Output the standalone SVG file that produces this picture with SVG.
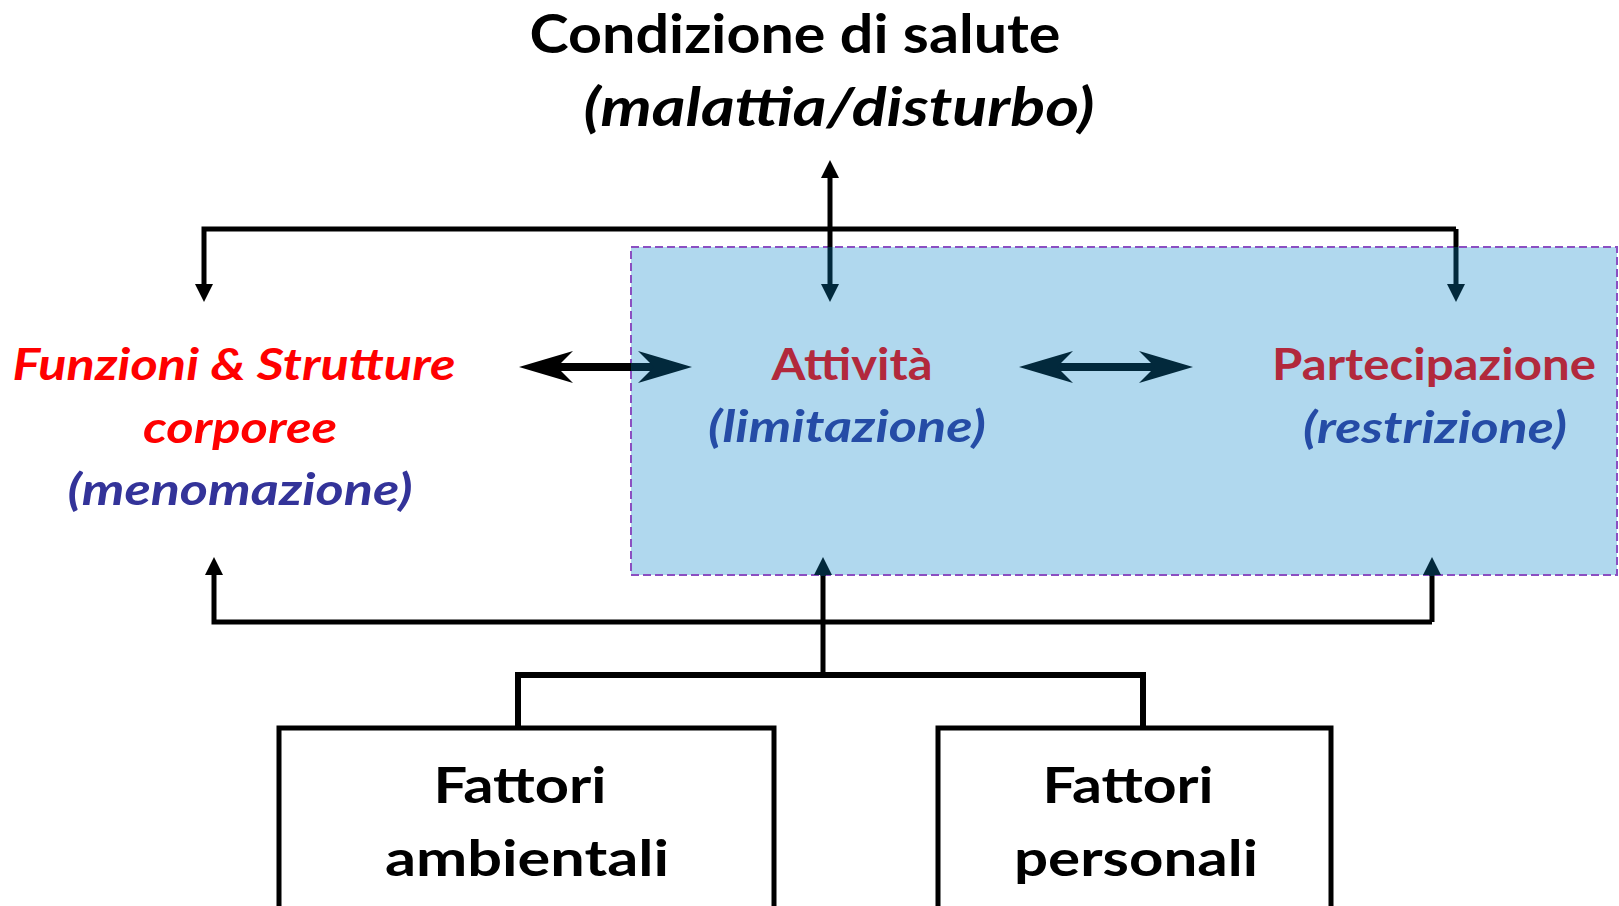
<svg xmlns="http://www.w3.org/2000/svg" width="1619" height="906" viewBox="0 0 1619 906">
<style>
text{font-family:Lato,"Open Sans","Liberation Sans",sans-serif;font-weight:bold;text-anchor:middle}
.it{font-style:italic}
.blk{fill:#000}
.red{fill:#FF0000}
.ind{fill:#333399}
.red2{fill:#B2293C}
.ind2{fill:#254CA6}
.ln{fill:none;stroke:#000;stroke-width:5;stroke-linejoin:miter}
.nv{fill:none;stroke:#02293C;stroke-width:5}
.thk{fill:none;stroke:#000;stroke-width:8}
.thkn{fill:none;stroke:#02293C;stroke-width:8}
.box{fill:#fff;stroke:#000;stroke-width:5}
</style>
<defs>
<marker id="triK" markerUnits="userSpaceOnUse" viewBox="0 0 18 18" refX="0" refY="9" markerWidth="18" markerHeight="18" orient="auto"><path d="M0,0 L18,9 L0,18 z" fill="#000"/></marker>
<marker id="triN" markerUnits="userSpaceOnUse" viewBox="0 0 18 18" refX="0" refY="9" markerWidth="18" markerHeight="18" orient="auto"><path d="M0,0 L18,9 L0,18 z" fill="#02293C"/></marker>
<marker id="barbK" markerUnits="userSpaceOnUse" viewBox="0 0 54 32" refX="16" refY="16" markerWidth="54" markerHeight="32" orient="auto-start-reverse"><path d="M54,16 L0,0 L16,16 L0,32 z" fill="#000"/></marker>
<marker id="barbN" markerUnits="userSpaceOnUse" viewBox="0 0 54 32" refX="16" refY="16" markerWidth="54" markerHeight="32" orient="auto-start-reverse"><path d="M54,16 L0,0 L16,16 L0,32 z" fill="#02293C"/></marker>
</defs>

<g id="group-box">
<rect x="631" y="247" width="986" height="328" fill="#B0D8EE" stroke="#8B4FC1" stroke-width="2" stroke-dasharray="8 4"/>
</g>

<g id="connectors">
<path class="ln" d="M1456,229 L204,229 L204,284" marker-end="url(#triK)"/>
<path class="ln" d="M1456,229 L1456,247"/>
<path class="nv" d="M1456,247 L1456,284" marker-end="url(#triN)"/>
<path class="ln" d="M830,247 L830,178" marker-end="url(#triK)"/>
<path class="nv" d="M830,247 L830,284" marker-end="url(#triN)"/>
<path class="thk" d="M633,367 L557,367" marker-end="url(#barbK)"/>
<path class="thkn" d="M631,367 L654,367" marker-end="url(#barbN)"/>
<path class="thkn" d="M1057,367 L1155,367" marker-start="url(#barbN)" marker-end="url(#barbN)"/>
<path class="ln" d="M1432,622 L214,622 L214,575" marker-end="url(#triK)"/>
<path class="ln" d="M1432,622 L1432,575"/>
<path class="nv" d="M1432,576 L1432,575" marker-end="url(#triN)"/>
<path class="ln" d="M823,675 L823,575"/>
<path class="nv" d="M823,576 L823,575" marker-end="url(#triN)"/>
<path class="ln" style="stroke-width:6" d="M518,728 L518,675 L1143,675 L1143,728"/>
</g>

<g id="node-condizione">
<text class="blk" x="795" y="53" font-size="53" textLength="531" lengthAdjust="spacingAndGlyphs">Condizione di salute</text>
<text class="blk it" x="839" y="126" font-size="53" textLength="511" lengthAdjust="spacingAndGlyphs">(malattia/disturbo)</text>
</g>

<g id="node-funzioni">
<text class="red it" x="234" y="380" font-size="44" textLength="443" lengthAdjust="spacingAndGlyphs">Funzioni &amp; Strutture</text>
<text class="red it" x="240" y="443" font-size="44" textLength="194" lengthAdjust="spacingAndGlyphs">corporee</text>
<text class="ind it" x="240" y="505" font-size="44" textLength="345" lengthAdjust="spacingAndGlyphs">(menomazione)</text>
</g>

<g id="node-attivita">
<text class="red2" x="852" y="380" font-size="44" textLength="161" lengthAdjust="spacingAndGlyphs">Attività</text>
<text class="ind2 it" x="847" y="442" font-size="44" textLength="278" lengthAdjust="spacingAndGlyphs">(limitazione)</text>
</g>

<g id="node-partecipazione">
<text class="red2" x="1434" y="380" font-size="44" textLength="324" lengthAdjust="spacingAndGlyphs">Partecipazione</text>
<text class="ind2 it" x="1435" y="443" font-size="44" textLength="264" lengthAdjust="spacingAndGlyphs">(restrizione)</text>
</g>

<g id="node-ambientali">
<rect class="box" x="279" y="728" width="495" height="200"/>
<text class="blk" x="520" y="803" font-size="50" textLength="173" lengthAdjust="spacingAndGlyphs">Fattori</text>
<text class="blk" x="527" y="876" font-size="50" textLength="284" lengthAdjust="spacingAndGlyphs">ambientali</text>
</g>

<g id="node-personali">
<rect class="box" x="938" y="728" width="393" height="200"/>
<text class="blk" x="1128" y="803" font-size="50" textLength="171" lengthAdjust="spacingAndGlyphs">Fattori</text>
<text class="blk" x="1136" y="876" font-size="50" textLength="244" lengthAdjust="spacingAndGlyphs">personali</text>
</g>
</svg>
